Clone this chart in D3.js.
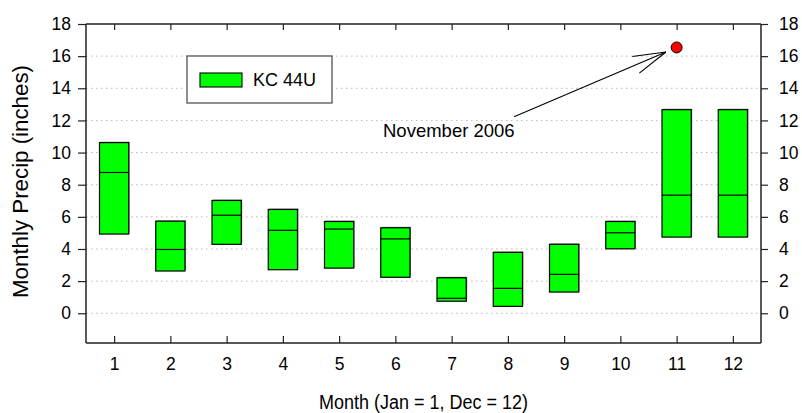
<!DOCTYPE html>
<html>
<head>
<meta charset="utf-8">
<script src="https://cdn.jsdelivr.net/npm/d3@7"></script>
<style>
  body { margin: 0; background: #fff; }
  svg { display: block; font-family: "Liberation Sans", Arial, sans-serif; }
</style>
</head>
<body>
<div class="container"></div>
<script>
// chart values
var months = [1, 2, 3, 4, 5, 6, 7, 8, 9, 10, 11, 12];
var boxLow = [4.93, 2.63, 4.29, 2.71, 2.81, 2.24, 0.75, 0.43, 1.32, 4.01, 4.74, 4.74];
var boxMid = [8.76, 3.97, 6.10, 5.16, 5.24, 4.63, 0.93, 1.55, 2.42, 5.01, 7.35, 7.35];
var boxHigh = [10.62, 5.73, 7.02, 6.46, 5.71, 5.32, 2.21, 3.79, 4.29, 5.71, 12.67, 12.67];
var outlierMonth = [11];
var outlierValue = [16.54];
var yTicks = [0, 2, 4, 6, 8, 10, 12, 14, 16, 18];
var seriesName = "KC 44U";
var noteText = "November 2006";

var w = 802, h = 413;
// plot edges (window.top is reserved, so prefixed names)
var pLeft = 86, pRight = 761, pTop = 24, pBottom = 343;

var svg = d3.select(".container").append("svg")
  .attr("width", w)
  .attr("height", h);

var x = d3.scaleLinear().domain([0.5, 12.5]).range([pLeft, pRight]);
var y = d3.scaleLinear().domain([-1.85, 18]).range([pBottom, pTop]);

// dotted grid
svg.append("g")
  .selectAll("line")
  .data(yTicks.filter(function (d) { return d < 18; }))
  .enter()
  .append("line")
  .attr("x1", pLeft)
  .attr("x2", pRight)
  .attr("y1", function (d) { return y(d); })
  .attr("y2", function (d) { return y(d); })
  .attr("stroke", "#b8b8b8")
  .attr("stroke-width", 1)
  .attr("stroke-dasharray", "1.5,3.5");

// axes
function styleAxis(g) {
  g.selectAll("path").attr("stroke", "#222").attr("stroke-width", 1.5);
  g.selectAll("line").attr("stroke", "#222").attr("stroke-width", 1.2);
  g.selectAll("text").attr("fill", "#000").style("font-size", "17.5px")
    .attr("font-family", "Liberation Sans, Arial, sans-serif");
}

var yLeft = d3.axisLeft(y).tickValues(yTicks).tickSizeInner(8).tickSizeOuter(0).tickPadding(7);
svg.append("g").attr("transform", "translate(" + pLeft + ",0)").call(yLeft).call(styleAxis)
  .select("path").attr("d", "M0," + pTop + "V" + pBottom);

var yRight = d3.axisRight(y).tickValues(yTicks).tickSizeInner(7).tickSizeOuter(0).tickPadding(11);
svg.append("g").attr("transform", "translate(" + pRight + ",0)").call(yRight).call(styleAxis)
  .select("path").attr("d", "M0," + pTop + "V" + pBottom);

var xBottom = d3.axisBottom(x).tickValues(months).tickSizeInner(-7).tickSizeOuter(0).tickPadding(15);
svg.append("g").attr("transform", "translate(0," + pBottom + ")").call(xBottom).call(styleAxis)
  .select("path").attr("d", "M" + pLeft + ",0H" + pRight);

var xTop = d3.axisTop(x).tickValues(months).tickSizeInner(-6).tickSizeOuter(0).tickFormat("");
svg.append("g").attr("transform", "translate(0," + pTop + ")").call(xTop).call(styleAxis)
  .select("path").attr("d", "M" + pLeft + ",0H" + pRight);

// boxes
var boxW = x(0.52) - x(0);
var boxes = svg.append("g").selectAll("g")
  .data(months)
  .enter()
  .append("g");

boxes.append("rect")
  .attr("x", function (d) { return x(d) - boxW / 2 + 1; })
  .attr("y", function (d, i) { return y(boxHigh[i]) - 1; })
  .attr("width", boxW)
  .attr("height", function (d, i) { return y(boxLow[i]) - y(boxHigh[i]); })
  .attr("fill", "#999");

boxes.append("rect")
  .attr("x", function (d) { return x(d) - boxW / 2; })
  .attr("y", function (d, i) { return y(boxHigh[i]); })
  .attr("width", boxW)
  .attr("height", function (d, i) { return y(boxLow[i]) - y(boxHigh[i]); })
  .attr("fill", "#00ff00")
  .attr("stroke", "#000")
  .attr("stroke-width", 1.2);

boxes.append("line")
  .attr("x1", function (d) { return x(d) - boxW / 2; })
  .attr("x2", function (d) { return x(d) + boxW / 2; })
  .attr("y1", function (d, i) { return y(boxMid[i]); })
  .attr("y2", function (d, i) { return y(boxMid[i]); })
  .attr("stroke", "#000")
  .attr("stroke-width", 1.2);

// outlier
svg.append("g").selectAll("circle")
  .data(outlierMonth)
  .enter()
  .append("circle")
  .attr("cx", function (d) { return x(d); })
  .attr("cy", function (d, i) { return y(outlierValue[i]); })
  .attr("r", 5.5)
  .attr("fill", "#ff0000")
  .attr("stroke", "#000")
  .attr("stroke-width", 1);

// annotation arrow
var sx = x(8.11), sy = y(12.23);
var tx = x(10.81), ty = y(16.26);
var ang = Math.atan2(sy - ty, sx - tx);
var armLen = 34, spread = 15.5 * Math.PI / 180;
var note = svg.append("g").attr("stroke", "#000").attr("stroke-width", 1.1).attr("fill", "none");
note.append("line").attr("x1", sx).attr("y1", sy).attr("x2", tx).attr("y2", ty);
[-spread, spread].forEach(function (s) {
  note.append("line")
    .attr("x1", tx).attr("y1", ty)
    .attr("x2", tx + armLen * Math.cos(ang + s))
    .attr("y2", ty + armLen * Math.sin(ang + s));
});
svg.append("text")
  .attr("x", x(5.78))
  .attr("y", y(10.98))
  .style("font-size", "18.5px")
  .text(noteText);

// legend
var legend = svg.append("g");
legend.append("rect")
  .attr("x", 187).attr("y", 56)
  .attr("width", 145).attr("height", 47)
  .attr("fill", "#fff")
  .attr("stroke", "#444")
  .attr("stroke-width", 1.2);
legend.append("rect")
  .attr("x", 200).attr("y", 73)
  .attr("width", 42).attr("height", 14)
  .attr("fill", "#00ff00")
  .attr("stroke", "#000")
  .attr("stroke-width", 1.1);
legend.append("text")
  .attr("x", 253).attr("y", 86)
  .style("font-size", "18px")
  .text(seriesName);

// axis titles (glyphs a little taller than wide in the original)
svg.append("text")
  .attr("transform", "translate(" + ((pLeft + pRight) / 2) + ",409) scale(1,1.14)")
  .attr("text-anchor", "middle")
  .style("font-size", "18px")
  .text("Month (Jan = 1, Dec = 12)");

svg.append("text")
  .attr("transform", "translate(28,181.5) rotate(-90)")
  .attr("text-anchor", "middle")
  .attr("textLength", 233)
  .attr("lengthAdjust", "spacingAndGlyphs")
  .style("font-size", "22px")
  .text("Monthly Precip (inches)");
</script>
</body>
</html>
